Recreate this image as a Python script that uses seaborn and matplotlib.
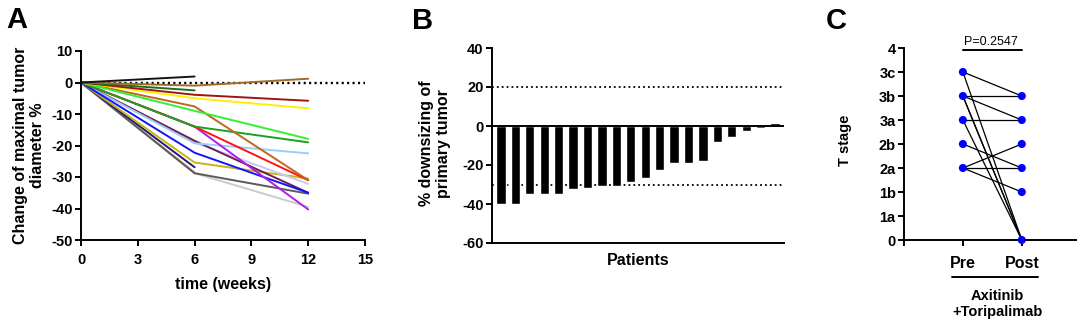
import numpy as np
import pandas as pd
import matplotlib
matplotlib.use("Agg")
import matplotlib.pyplot as plt
from matplotlib.lines import Line2D
import seaborn as sns

# ---------------- data ----------------
# A: change of maximal tumour diameter (%) per patient at weeks 0, 6 and 12
weeks = [0, 6, 12]
diameter_change = [
    [0, -28.8, -39.5],
    [0, -28.5, np.nan],
    [0, -28.8, -35.3],
    [0, -26.9, np.nan],
    [0, -25.4, -30.5],
    [0, -19.0, -32.2],
    [0, -18.8, np.nan],
    [0, -18.5, -35.0],
    [0, -19.3, -22.5],
    [0, -22.3, -35.0],
    [0, -14.0, -40.3],
    [0, -14.0, -31.0],
    [0, -14.0, -19.0],
    [0, -7.6, -31.0],
    [0, -9.0, -17.9],
    [0, -5.0, -8.2],
    [0, -3.9, -5.8],
    [0, -2.5, np.nan],
    [0, -1.0, 1.2],
    [0, 1.9, np.nan],
]
line_colors = [
    "#CBCBCB", "#F4B183", "#5A5A5A", "#1A1A80", "#C8B414",
    "#C8C8F8", "#F07820", "#6E1E5A", "#99CCFF", "#1414FF",
    "#B020E8", "#FF1414", "#1EA01E", "#C0661E", "#33F033",
    "#FFF000", "#A01414", "#1E6E1E", "#A06A28", "#141414",
]

# B: waterfall of primary tumour downsizing (%)
downsizing = [-40.0, -39.8, -35.1, -35.0, -35.0, -32.4, -32.0, -30.8, -30.7,
              -28.8, -26.6, -22.5, -19.0, -18.8, -17.9, -8.2, -5.8, -2.6,
              -1.0, 1.5]

# C: T stage before and after Axitinib + Toripalimab
t_stages = ["0", "1a", "1b", "2a", "2b", "3a", "3b", "3c", "4"]
pre_stage = ["3c", "3c", "3b", "3b", "3b", "3b", "3a", "3a", "2b", "2a", "2a", "2a"]
post_stage = ["3b", "0", "3b", "3a", "0", "0", "3a", "0", "2a", "2b", "2a", "1b"]
timepoints = ["Pre", "Post"]
p_value_text = "P=0.2547"

# ---------------- style ----------------
sns.set_style("ticks")
plt.rcParams["font.family"] = ["Liberation Sans", "DejaVu Sans"]
plt.rcParams["font.weight"] = "bold"
plt.rcParams["axes.labelweight"] = "bold"
plt.rcParams["axes.unicode_minus"] = False
plt.rcParams["text.color"] = "black"
plt.rcParams["axes.labelcolor"] = "black"
plt.rcParams["axes.linewidth"] = 1.4
plt.rcParams["xtick.major.width"] = 1.4
plt.rcParams["ytick.major.width"] = 1.4
plt.rcParams["xtick.major.size"] = 4.5
plt.rcParams["ytick.major.size"] = 4.5
plt.rcParams["xtick.major.pad"] = 4.5
plt.rcParams["ytick.major.pad"] = 1.5
plt.rcParams["xtick.color"] = "black"
plt.rcParams["ytick.color"] = "black"
plt.rcParams["axes.edgecolor"] = "black"

fig = plt.figure(figsize=(10.8, 3.33), dpi=100)
W, H = 1080, 333


def px_axes(left, top, right, bottom):
    return fig.add_axes([left / W, 1 - bottom / H, (right - left) / W, (bottom - top) / H])


axA = px_axes(81, 51, 365, 240)
axB = px_axes(492, 48, 784, 243)
axC = px_axes(904, 48, 1076, 240)

TICK_FS = 10.5
LABEL_FS = 11.5

# ---------------- panel A ----------------
rows = []
for pid, vals in enumerate(diameter_change):
    for w, v in zip(weeks, vals):
        if not np.isnan(v):
            rows.append({"patient": pid, "week": w, "change": v})
dfA = pd.DataFrame(rows)
axA.plot([0, 15], [0, 0], color="black", lw=1.7, ls=(0, (0.9, 1.4)), zorder=1)
sns.lineplot(data=dfA, x="week", y="change", hue="patient",
             palette=line_colors, legend=False, lw=1.4, ax=axA,
             estimator=None, sort=False, zorder=2)
axA.set_xlim(0, 15)
axA.set_ylim(-50, 10)
axA.set_xticks([0, 3, 6, 9, 12, 15])
axA.set_yticks([10, 0, -10, -20, -30, -40, -50])
axA.tick_params(labelsize=TICK_FS)
axA.set_xlabel("time (weeks)", fontsize=LABEL_FS)
axA.set_ylabel("Change of maximal tumor\ndiameter %", fontsize=LABEL_FS)
axA.yaxis.set_label_coords(-0.125, 0.5)
axA.xaxis.set_label_coords(0.5, -0.195)
sns.despine(ax=axA)

# ---------------- panel B ----------------
dfB = pd.DataFrame({"patient": [str(i) for i in range(len(downsizing))],
                    "downsizing": downsizing})
sns.barplot(data=dfB, x="patient", y="downsizing", color="black",
            width=0.64, saturation=1, ax=axB, zorder=3)
for lvl in (20, -30):
    axB.axhline(lvl, color="black", lw=1.3, ls=(0, (1, 1.7)), zorder=1)
axB.axhline(0, color="black", lw=1.4, zorder=4)
axB.set_xlim(-0.62, len(downsizing) - 0.38)
axB.set_ylim(-60, 40)
axB.set_yticks([40, 20, 0, -20, -40, -60])
axB.set_xticks([])
axB.tick_params(labelsize=TICK_FS)
axB.set_xlabel("Patients", fontsize=LABEL_FS)
axB.xaxis.set_label_coords(0.5, -0.05)
axB.set_ylabel("% downsizing of\nprimary tumor", fontsize=LABEL_FS)
axB.yaxis.set_label_coords(-0.14, 0.51)
sns.despine(ax=axB)

# ---------------- panel C ----------------
stage_idx = {s: i for i, s in enumerate(t_stages)}
rowsC = []
for pid, (a, b) in enumerate(zip(pre_stage, post_stage)):
    rowsC.append({"patient": pid, "x": 1, "stage": stage_idx[a]})
    rowsC.append({"patient": pid, "x": 2, "stage": stage_idx[b]})
dfC = pd.DataFrame(rowsC)
sns.lineplot(data=dfC, x="x", y="stage", units="patient", estimator=None,
             sort=False, color="black", lw=0.9, ax=axC, zorder=2)
sns.scatterplot(data=dfC.drop_duplicates(["x", "stage"]), x="x", y="stage",
                color="#0000FF", s=34, edgecolor="none", ax=axC, zorder=3,
                clip_on=False)
axC.set_xlim(0, 2.92)
axC.set_ylim(0, 8)
axC.set_yticks(range(len(t_stages)))
axC.set_yticklabels(t_stages)
axC.set_xticks([0, 1, 2])
axC.set_xticklabels(["", timepoints[0], timepoints[1]], fontsize=11.5)
axC.tick_params(axis="x", pad=7)
axC.tick_params(axis="y", labelsize=TICK_FS)
axC.set_xlabel("")
axC.set_ylabel("T stage", fontsize=10.5)
axC.yaxis.set_label_coords(-0.30, 0.52)
sns.despine(ax=axC)

# significance bracket
axC.plot([1, 2], [7.9, 7.9], color="black", lw=1.4, clip_on=False)
axC.text(1.47, 8.27, p_value_text, ha="center", va="center",
         fontsize=9, fontweight="normal")
# treatment group underline and name
axC.add_line(Line2D([0.81, 2.27], [-0.193, -0.193], color="black", lw=1.4,
                    transform=axC.get_xaxis_transform(), clip_on=False))
axC.text(1.58, -0.335, "Axitinib\n+Toripalimab", ha="center", va="center",
         fontsize=10.5, transform=axC.get_xaxis_transform(), linespacing=1.15)

# ---------------- panel letters ----------------
for x, y, s in [(6, 6, "A"), (412, 7, "B"), (826, 7, "C")]:
    fig.text(x / W, 1 - y / H, s, fontsize=21, fontweight="bold",
             ha="left", va="top")

fig.savefig("out.png", dpi=100)
